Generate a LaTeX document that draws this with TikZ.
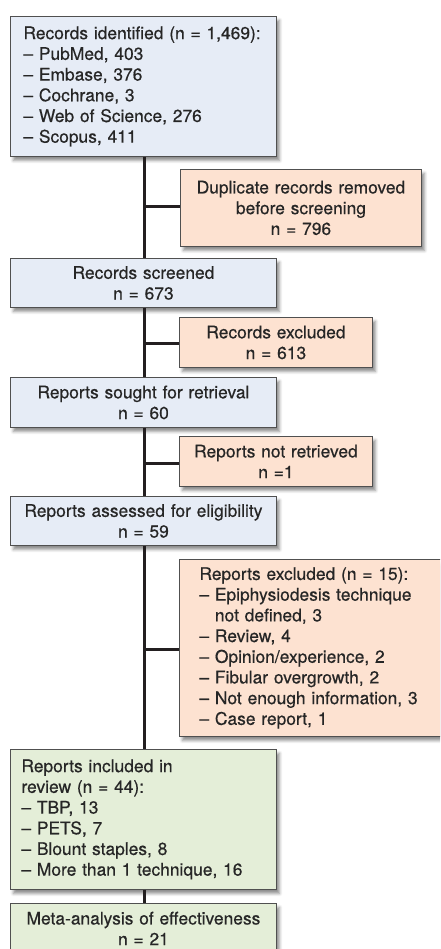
\documentclass[tikz,border=0pt]{standalone}
\usepackage{fontspec}
\setmainfont{TeX Gyre Heros}
\newfontfamily\boxfont{TeX Gyre Heros}[FakeBold=0.5]
\usetikzlibrary{shadows.blur}
\definecolor{bluefill}{RGB}{230,236,246}
\definecolor{orangefill}{RGB}{253,226,209}
\definecolor{greenfill}{RGB}{228,238,216}
\definecolor{boxline}{RGB}{80,80,80}
\definecolor{conline}{RGB}{35,31,32}
\begin{document}
\begin{tikzpicture}[x=1pt,y=-1pt,
  box/.style={draw=boxline, line width=0.9pt, anchor=north west, inner ysep=0pt,
    text=black!85, font=\boxfont\fontsize{17.4}{20.7}\selectfont,
    blur shadow={shadow xshift=3pt, shadow yshift=-4pt, shadow blur radius=3pt, shadow opacity=45}},
  bluebox/.style={box, fill=bluefill},
  orangebox/.style={box, fill=orangefill},
  greenbox/.style={box, fill=greenfill},
  con/.style={draw=conline, line width=3pt}]
\useasboundingbox (0,0) rectangle (440,949);
\clip (0,0) rectangle (440,949);
% boxes
\node[bluebox, inner xsep=13pt, text width=240pt, minimum height=140pt, align=left] (b1) at (10,16)
  {Records identified (n = 1,469):\\– PubMed, 403\\– Embase, 376\\– Cochrane, 3\\– Web of Science, 276\\– Scopus, 411};
\node[orangebox, inner xsep=4pt, text width=233pt, minimum height=77pt, align=center] (b2) at (180,169)
  {Duplicate records removed\\before screening\\n = 796};
\node[bluebox, inner xsep=4pt, text width=258pt, minimum height=49pt, align=center] (b3) at (10,258)
  {Records screened\\n = 673};
\node[orangebox, inner xsep=4pt, text width=185pt, minimum height=50pt, align=center] (b4) at (179,317)
  {Records excluded\\n = 613};
\node[bluebox, inner xsep=4pt, text width=258pt, minimum height=50pt, align=center] (b5) at (10,377)
  {Reports sought for retrieval\\n = 60};
\node[orangebox, inner xsep=4pt, text width=185pt, minimum height=50pt, align=center] (b6) at (179,436)
  {Reports not retrieved\\n =1};
\node[bluebox, inner xsep=4pt, text width=258pt, minimum height=49pt, align=center] (b7) at (10,496)
  {Reports assessed for eligibility\\n = 59};
\node[orangebox, inner xsep=20pt, text width=240pt, minimum height=177pt, align=left] (b8) at (179,559)
  {Reports excluded (n = 15):\\– Epiphysiodesis technique\\\hphantom{– }not defined, 3\\– Review, 4\\– Opinion/experience, 2\\– Fibular overgrowth, 2\\– Not enough information, 3\\– Case report, 1};
\node[greenbox, inner xsep=11pt, text width=244pt, minimum height=140pt, align=left] (b9) at (10,749)
  {Reports included in\\review (n = 44):\\– TBP, 13\\– PETS, 7\\– Blount staples, 8\\– More than 1 technique, 16};
\node[greenbox, inner xsep=4pt, text width=258pt, minimum height=50pt, align=center] (b10) at (10,903)
  {Meta-analysis of effectiveness\\n = 21};
% connectors
\coordinate (j1) at (144,207);
\coordinate (j2) at (144,343);
\coordinate (j3) at (144,463);
\coordinate (j4) at (144,649);
\draw[con] (b1.south -| j1) -- (b3.north -| j1);
\draw[con] (b3.south -| j1) -- (b5.north -| j1);
\draw[con] (b5.south -| j1) -- (b7.north -| j1);
\draw[con] (b7.south -| j1) -- (b9.north -| j1);
\draw[con] (b9.south -| j1) -- (b10.north -| j1);
\draw[con] (j1) -- (b2.west |- j1);
\draw[con] (j2) -- (b4.west |- j2);
\draw[con] (j3) -- (b6.west |- j3);
\draw[con] (j4) -- (b8.west |- j4);
\end{tikzpicture}
\end{document}
